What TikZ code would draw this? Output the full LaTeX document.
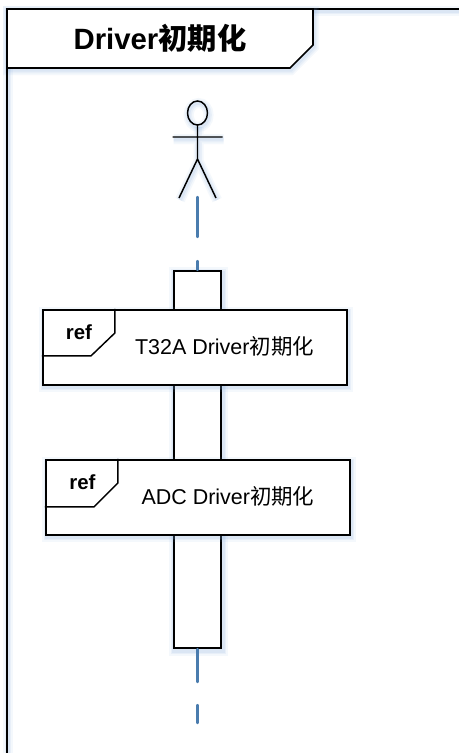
\documentclass[tikz,border=0pt]{standalone}
\usepackage{fontspec}
\setmainfont{Liberation Sans}
\newfontfamily\cjk{Noto Sans CJK SC}
\newcommand{\zh}[1]{{\cjk #1}}
\definecolor{lifeblue}{HTML}{4A7CAE}
\definecolor{glow}{HTML}{7FA8DC}
\tikzset{
  x=0.75pt,y=-0.75pt,
  glowing/.style={
    preaction={draw=glow,draw opacity=.08,line width=7.5pt,transform canvas={shift={(.8pt,-1.5pt)}}},
    preaction={draw=glow,draw opacity=.10,line width=5pt,transform canvas={shift={(.8pt,-1.5pt)}}},
    preaction={draw=glow,draw opacity=.12,line width=2.5pt,transform canvas={shift={(.8pt,-1.5pt)}}}},
  thinline/.style={draw=black,line width=1.1pt},
  lifeline/.style={draw=lifeblue,line width=1.8pt,line cap=round},
  activation/.style={rectangle,fill=black,glowing,minimum width=36.75pt,minimum height=284pt,inner sep=0pt},
  refbox/.style={rectangle,draw=black,line width=1.6pt,fill=white,glowing,minimum width=228pt,minimum height=56.25pt,inner sep=0pt},
  reftext/.style={anchor=base,inner sep=0pt,font=\fontsize{15.3pt}{18pt}\selectfont\bfseries},
  bodytext/.style={anchor=base,inner sep=0pt,font=\fontsize{16.1pt}{19pt}\selectfont},
  titletext/.style={anchor=base,inner sep=0pt,font=\fontsize{22pt}{26pt}\selectfont\bfseries},
}
\begin{document}
\begin{tikzpicture}
\useasboundingbox (0,0) rectangle (459,753);
\clip (0,0) rectangle (459,753);
\fill[white] (0,0) rectangle (459,753);
% frame
\draw[thinline,glowing] (313,9) -- (459,9);
\draw[draw=none,glowing] (7,753) -- (7,9) -- (313,9);
\path[draw=black,line width=1.2pt,fill=white,glowing] (7,9) -- (313,9) -- (313,45) -- (290,68) -- (7,68) -- cycle;
\fill[black] (6,8) rectangle (8,753);
\node[titletext] (title) at (160,49.3) {Driver\zh{初期化}};
% actor
\coordinate (neck) at (197.5,125);
\coordinate (hip) at (197.5,159);
\coordinate (armL) at (172.5,137);
\coordinate (armR) at (222.5,137);
\coordinate (legL) at (179,198);
\coordinate (legR) at (216,198);
\draw[thinline,glowing] (197.5,113) ellipse [x radius=10,y radius=12];
\draw[thinline,glowing] (neck) -- (hip) (armL) -- (armR) (legL) -- (hip) -- (legR);
% lifeline
\coordinate (lifeA) at (197.5,197);
\coordinate (lifeB) at (197.5,237);
\coordinate (lifeC) at (197.5,261);
\node[activation] (act) at (197.5,459.5) {};
\fill[white] ([shift={(2,2)}]act.north west) rectangle ([shift={(-2,-2)}]act.south east);
\coordinate (lifeD) at (197.5,682);
\coordinate (lifeE) at (197.5,705);
\coordinate (lifeF) at (197.5,723);
\draw[lifeline] (lifeA) -- (lifeB);
\draw[lifeline] (lifeC) -- (act.north);
\draw[lifeline] (act.south) -- (lifeD);
\draw[lifeline] (lifeE) -- (lifeF);
% ref 1
\node[refbox] (refA) at (195,347.5) {};
\draw[thinline] (refA.north west) ++(73,0) -- ++(0,24) -- ++(-24,23) -- ++(-49,0);
\node[reftext] (refAlabel) at (79,339.3) {ref};
\node[bodytext] (refAtext) at (224.5,354.3) {T32A Driver\zh{初期化}};
% ref 2
\node[refbox] (refB) at (198,497.5) {};
\draw[thinline] (refB.north west) ++(73,0) -- ++(0,24) -- ++(-24,24) -- ++(-49,0);
\node[reftext] (refBlabel) at (82.5,489.3) {ref};
\node[bodytext] (refBtext) at (228,504.3) {ADC Driver\zh{初期化}};
\end{tikzpicture}
\end{document}
